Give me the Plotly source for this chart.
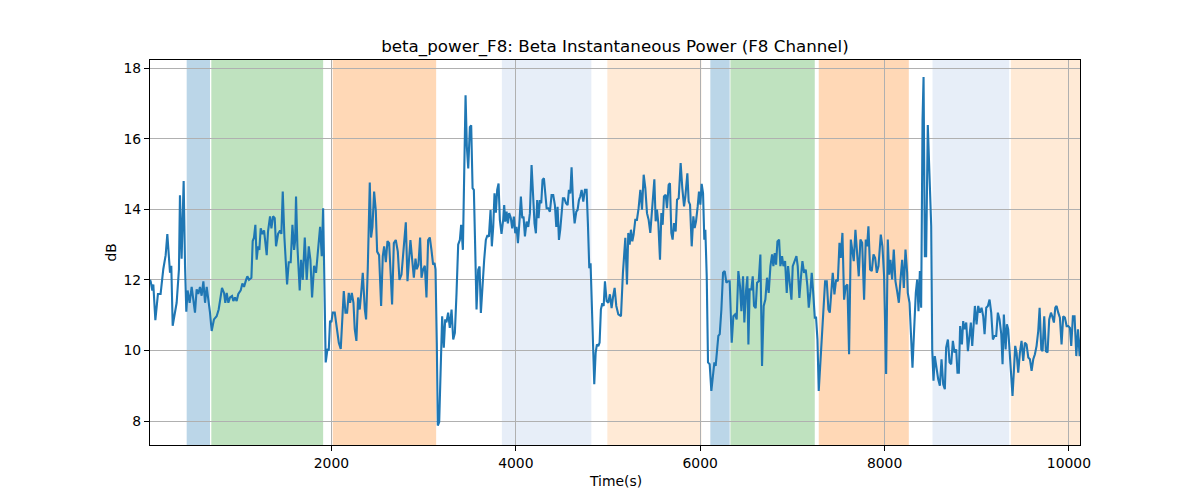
import plotly.graph_objects as go

# ---- data ----
time_s = [
    32, 39, 57, 68, 90, 118, 147, 176, 202, 220, 249, 263, 278, 299, 321, 346, 357, 375, 397, 412,
    426, 440, 462, 484, 502, 520, 538, 556, 574, 592, 611, 629, 647, 665, 683, 701, 726, 755, 777, 813,
    835, 849, 864, 882, 900, 922, 936, 954, 972, 990, 1016, 1034, 1052, 1074, 1088, 1106, 1132, 1146, 1160, 1175,
    1189, 1204, 1218, 1233, 1251, 1269, 1298, 1312, 1334, 1349, 1367, 1385, 1399, 1421, 1443, 1457, 1472, 1490, 1504, 1519,
    1537, 1558, 1577, 1595, 1606, 1616, 1631, 1642, 1656, 1671, 1689, 1711, 1732, 1754, 1772, 1790, 1812, 1833, 1855, 1877,
    1895, 1910, 1938, 1957, 1971, 1985, 2000, 2014, 2036, 2058, 2080, 2101, 2116, 2134, 2152, 2170, 2188, 2203, 2221, 2239,
    2253, 2271, 2289, 2307, 2326, 2340, 2362, 2376, 2394, 2416, 2430, 2445, 2463, 2481, 2496, 2517, 2539, 2557, 2572, 2590,
    2608, 2626, 2644, 2658, 2677, 2698, 2720, 2738, 2760, 2789, 2807, 2825, 2839, 2857, 2875, 2894, 2912, 2926, 2944, 2962,
    2977, 2995, 3013, 3031, 3049, 3067, 3085, 3103, 3118, 3129, 3143, 3154, 3169, 3187, 3201, 3219, 3234, 3248, 3266, 3284,
    3303, 3321, 3339, 3357, 3375, 3393, 3407, 3426, 3440, 3455, 3469, 3484, 3502, 3516, 3531, 3545, 3560, 3574, 3592, 3607,
    3621, 3639, 3657, 3675, 3693, 3708, 3726, 3740, 3755, 3769, 3784, 3798, 3813, 3827, 3845, 3863, 3874, 3885, 3900, 3914,
    3928, 3946, 3961, 3979, 3994, 4008, 4023, 4041, 4055, 4070, 4084, 4099, 4117, 4135, 4153, 4171, 4189, 4203, 4218, 4232,
    4247, 4261, 4276, 4290, 4305, 4319, 4334, 4352, 4370, 4388, 4406, 4424, 4439, 4453, 4468, 4482, 4497, 4511, 4526, 4544,
    4562, 4576, 4591, 4605, 4623, 4638, 4656, 4670, 4685, 4699, 4714, 4732, 4750, 4768, 4782, 4797, 4811, 4826, 4840, 4851,
    4866, 4880, 4895, 4909, 4923, 4938, 4953, 4967, 4985, 5003, 5021, 5039, 5054, 5072, 5090, 5112, 5141, 5162, 5188, 5206,
    5220, 5235, 5249, 5264, 5278, 5296, 5314, 5332, 5351, 5369, 5387, 5405, 5423, 5441, 5459, 5477, 5503, 5517, 5531, 5546,
    5564, 5579, 5593, 5607, 5626, 5640, 5658, 5672, 5687, 5701, 5716, 5734, 5749, 5767, 5788, 5806, 5825, 5839, 5861, 5875,
    5890, 5908, 5926, 5940, 5955, 5973, 5987, 6002, 6016, 6031, 6045, 6056, 6071, 6085, 6103, 6121, 6139, 6154, 6168, 6183,
    6197, 6212, 6230, 6248, 6266, 6284, 6302, 6320, 6342, 6360, 6378, 6396, 6414, 6432, 6447, 6465, 6479, 6497, 6512, 6523,
    6537, 6555, 6570, 6584, 6602, 6617, 6635, 6653, 6671, 6689, 6707, 6725, 6743, 6762, 6780, 6794, 6809, 6823, 6838, 6856,
    6870, 6888, 6903, 6921, 6939, 6953, 6971, 6990, 7004, 7022, 7044, 7058, 7076, 7094, 7109, 7127, 7145, 7163, 7178, 7196,
    7210, 7225, 7243, 7257, 7272, 7286, 7304, 7319, 7337, 7355, 7373, 7391, 7406, 7424, 7438, 7456, 7474, 7493, 7511, 7525,
    7543, 7561, 7579, 7597, 7615, 7634, 7652, 7666, 7684, 7702, 7720, 7738, 7757, 7778, 7796, 7811, 7825, 7843, 7861, 7880,
    7898, 7916, 7934, 7959, 7977, 7995, 8017, 8035, 8050, 8064, 8082, 8100, 8118, 8136, 8155, 8173, 8191, 8209, 8227, 8245,
    8252, 8271, 8285, 8303, 8321, 8339, 8354, 8368, 8383, 8397, 8412, 8423, 8437, 8451, 8469, 8488, 8506, 8517, 8531, 8545,
    8564, 8582, 8600, 8618, 8636, 8654, 8668, 8687, 8705, 8723, 8741, 8759, 8777, 8791, 8806, 8820, 8839, 8853, 8867, 8886,
    8904, 8922, 8936, 8951, 8965, 8980, 8998, 9016, 9034, 9052, 9070, 9085, 9103, 9121, 9139, 9157, 9175, 9193, 9211, 9229,
    9247, 9266, 9280, 9294, 9313, 9327, 9341, 9356, 9374, 9388, 9403, 9417, 9432, 9450, 9468, 9486, 9504, 9522, 9540, 9559,
    9577, 9595, 9613, 9631, 9649, 9667, 9682, 9700, 9714, 9732, 9750, 9768, 9786, 9805, 9819, 9837, 9852, 9866, 9884, 9902,
    9920, 9938, 9956, 9975, 9993, 10011, 10025, 10043, 10061, 10080, 10098, 10116, 10134,
]

power_db = [
    12.0, 11.96, 11.7, 11.87, 10.86, 11.6, 11.6, 12.3, 12.7, 13.3, 12.2, 12.4, 10.7, 11.07, 11.35, 12.3, 14.4, 12.6, 14.8, 12.4,
    11.1, 11.7, 11.35, 11.8, 11.45, 11.07, 11.73, 11.6, 11.8, 11.55, 11.96, 11.35, 11.8, 11.45, 11.07, 10.55, 10.88, 10.97, 11.16, 11.77,
    11.63, 11.35, 11.63, 11.35, 11.5, 11.54, 11.4, 11.5, 11.4, 11.6, 11.7, 11.9, 11.8, 12.0, 12.1, 12.0, 12.06, 13.1, 13.2, 13.56,
    12.57, 12.95, 12.85, 13.46, 13.3, 13.4, 12.7, 13.37, 13.8, 13.46, 13.8, 13.75, 12.95, 13.3, 13.4, 13.3, 14.5, 13.2, 12.6, 11.87,
    12.5, 12.5, 13.56, 12.85, 13.1, 14.36, 12.95, 12.2, 11.7, 12.57, 12.0, 13.2, 12.0, 12.95, 12.57, 11.5, 12.4, 12.2, 12.85, 13.5,
    12.67, 14.03, 9.66, 10.04, 10.0, 10.84, 10.8, 11.07, 11.07, 10.6, 10.22, 10.04, 10.97, 11.68, 11.07, 11.07, 11.63, 11.35, 11.63, 11.35,
    10.6, 10.27, 11.5, 11.16, 11.73, 12.2, 11.16, 10.88, 12.3, 14.76, 13.2, 13.5, 14.5, 13.97, 12.8, 12.7, 11.26, 12.67, 12.95, 12.5,
    13.1, 13.04, 12.1, 11.3, 13.04, 13.13, 12.8, 12.0, 12.15, 12.95, 13.63, 11.96, 12.5, 13.13, 12.6, 12.06, 12.6, 12.3, 12.43, 13.2,
    12.06, 12.3, 12.4, 11.5, 13.13, 13.2, 12.85, 12.43, 12.48, 12.3, 10.22, 7.87, 7.97, 10.22, 10.97, 10.08, 10.88, 10.8, 11.07, 10.64,
    11.16, 10.31, 10.5, 11.63, 13.0, 13.13, 13.56, 12.85, 14.83, 17.23, 15.77, 15.16, 16.33, 16.38, 14.6, 14.55, 12.85, 11.16, 12.29, 12.38,
    11.06, 12.0, 12.57, 13.13, 13.27, 13.22, 13.98, 12.95, 13.5, 14.45, 13.9, 14.55, 14.73, 13.7, 13.3, 13.7, 14.12, 13.65, 13.93, 13.6,
    13.89, 13.75, 13.46, 13.79, 13.32, 13.5, 13.04, 13.7, 14.36, 13.75, 13.79, 13.23, 13.65, 13.5, 13.89, 15.25, 14.36, 13.6, 13.32, 14.26,
    13.75, 14.26, 14.17, 14.83, 14.88, 14.36, 14.03, 14.03, 13.93, 14.4, 14.4, 14.12, 13.5, 14.07, 13.13, 13.42, 13.89, 14.31, 14.31, 14.17,
    14.12, 14.55, 14.45, 15.19, 14.07, 13.6, 13.93, 13.98, 14.26, 14.36, 14.55, 14.22, 14.55, 14.55, 13.6, 12.33, 12.47, 11.06, 9.46, 9.04,
    9.93, 10.17, 10.12, 10.22, 11.16, 11.34, 11.26, 11.96, 11.4, 11.35, 11.59, 11.2, 11.5, 11.77, 11.26, 11.02, 10.97, 12.2, 13.19, 11.87,
    13.33, 13.0, 13.42, 13.09, 13.28, 13.7, 13.7, 14.03, 14.55, 13.99, 14.98, 14.6, 13.89, 13.7, 13.33, 14.08, 14.85, 13.66, 13.99, 13.61,
    12.57, 13.89, 13.56, 14.36, 14.41, 14.03, 14.69, 14.74, 13.33, 13.14, 13.61, 13.37, 14.27, 14.31, 15.31, 14.6, 14.08, 14.36, 15.02, 14.22,
    14.13, 12.95, 13.8, 13.47, 13.66, 14.08, 14.5, 14.13, 14.72, 14.46, 13.14, 13.42, 12.1, 9.66, 9.61, 8.85, 9.37, 9.66, 9.56, 10.03,
    10.41, 10.46, 11.16, 12.2, 12.25, 11.92, 11.96, 11.96, 10.22, 10.97, 11.02, 10.88, 12.25, 11.82, 11.11, 12.1, 10.79, 11.68, 12.1, 10.17,
    11.73, 11.73, 12.1, 11.26, 11.2, 11.92, 11.96, 12.72, 9.56, 11.26, 11.44, 12.06, 11.63, 12.39, 12.72, 12.39, 12.76, 12.43, 13.09, 13.14,
    12.39, 12.67, 12.39, 12.53, 11.63, 12.39, 11.87, 11.44, 12.39, 12.53, 12.67, 12.39, 11.49, 12.1, 12.53, 12.2, 12.29, 11.82, 11.21, 11.68,
    12.2, 11.68, 10.93, 10.93, 10.31, 8.85, 9.75, 10.22, 11.35, 11.96, 11.96, 11.16, 11.07, 11.73, 12.2, 11.59, 12.0, 11.96, 13.05, 12.62,
    13.33, 11.44, 11.82, 11.87, 9.89, 13.14, 12.86, 12.53, 13.42, 12.86, 12.1, 13.14, 13.05, 11.44, 13.14, 12.95, 13.52, 12.29, 12.25, 12.72,
    12.62, 12.2, 12.39, 13.28, 12.95, 12.1, 9.33, 13.14, 12.15, 12.57, 12.01, 12.86, 11.96, 11.68, 11.35, 12.01, 12.57, 11.77, 12.86, 12.2,
    11.63, 11.35, 10.69, 9.51, 10.6, 11.63, 12.01, 11.11, 12.25, 11.21, 16.53, 17.75, 12.67, 12.67, 16.39, 15.12, 13.52, 10.03, 9.14, 9.84,
    9.42, 9.18, 9.0, 9.75, 9.04, 8.9, 10.08, 10.31, 9.66, 9.61, 10.27, 9.94, 10.03, 9.37, 9.37, 10.69, 10.17, 10.83, 10.6, 10.79,
    9.98, 10.55, 10.79, 10.13, 10.79, 11.26, 10.74, 11.26, 11.07, 11.21, 10.97, 10.46, 11.21, 11.26, 11.44, 11.07, 10.31, 10.41, 10.41, 11.07,
    10.88, 10.46, 9.61, 11.02, 10.03, 10.74, 10.6, 9.89, 9.18, 8.71, 9.42, 10.13, 9.94, 9.37, 9.94, 10.27, 9.7, 10.22, 10.17, 9.8,
    9.75, 9.42, 9.75, 9.89, 10.13, 10.55, 11.21, 10.03, 9.98, 10.97, 9.98, 9.94, 10.88, 11.07, 10.97, 10.79, 11.21, 11.26, 11.07, 10.93,
    10.17, 10.97, 10.93, 10.69, 10.69, 10.64, 10.13, 10.97, 10.97, 9.84, 10.6, 9.84, 10.5,
]

band_start = [430, 697, 2014, 3849, 4993, 6110, 6328, 7286, 8520, 9370]
band_end = [683, 1910, 3136, 4819, 6013, 6320, 7243, 8263, 9352, 10200]
band_color = ["#1f77b4", "#2ca02c", "#ff7f0e", "#aec7e8", "#ffbb78",
              "#1f77b4", "#2ca02c", "#ff7f0e", "#aec7e8", "#ffbb78"]

x_ticks = [2000, 4000, 6000, 8000, 10000]
y_ticks = [8, 10, 12, 14, 16, 18]

FONT = "DejaVu Sans"

fig = go.Figure()
fig.add_trace(go.Scatter(
    x=time_s, y=power_db, mode="lines",
    line=dict(color="#1f77b4", width=2.1),
    showlegend=False, hoverinfo="skip",
))

for s, e, c in zip(band_start, band_end, band_color):
    fig.add_shape(type="rect", xref="x", yref="paper", x0=s, x1=e, y0=0, y1=1,
                  fillcolor=c, opacity=0.3, line=dict(width=0), layer="below")

axis_common = dict(
    showline=True, linecolor="black", linewidth=1.1, mirror=True,
    ticks="outside", ticklen=5, tickwidth=1.1, tickcolor="black",
    showgrid=True, gridcolor="#b0b0b0", gridwidth=1.1, zeroline=False,
    tickfont=dict(family=FONT, size=13.9, color="black"),
)

fig.update_xaxes(range=[32, 10120], tickvals=x_ticks,
                 ticktext=[str(v) for v in x_ticks], **axis_common)
fig.update_yaxes(range=[7.32, 18.23], tickvals=y_ticks,
                 ticktext=[str(v) for v in y_ticks], **axis_common)

fig.add_annotation(text="Time(s)", xref="paper", yref="paper", x=0.5, y=-0.0935,
                   xanchor="center", yanchor="middle", showarrow=False,
                   font=dict(family=FONT, size=13.9, color="black"))
fig.add_annotation(text="dB", xref="paper", yref="paper", x=-0.043, y=0.5,
                   xanchor="center", yanchor="middle", showarrow=False, textangle=-90,
                   font=dict(family=FONT, size=13.9, color="black"))

# page body has an 8px margin, so shift the figure up/left by 8px via margins
fig.update_layout(
    width=1200, height=500,
    margin=dict(l=142, r=128, t=52, b=63),
    paper_bgcolor="white", plot_bgcolor="white",
    title=dict(text="beta_power_F8: Beta Instantaneous Power (F8 Channel)",
               x=0.5, xref="paper", xanchor="center",
               y=1 - 38 / 500, yref="container", yanchor="middle",
               font=dict(family=FONT, size=16.7, color="black")),
)

fig.write_html("out.html")
